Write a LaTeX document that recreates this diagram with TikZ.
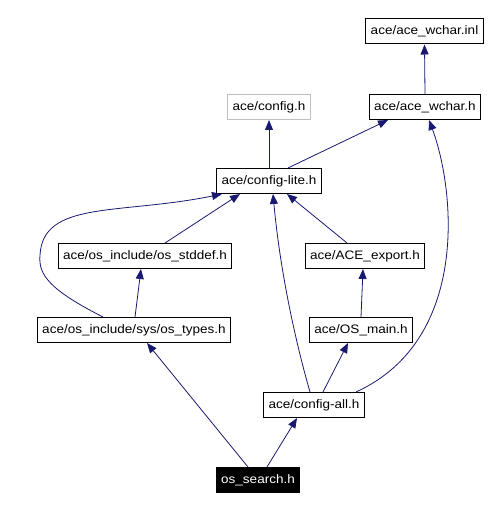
\documentclass[tikz,border=0pt]{standalone}
\usepackage{fontspec}
\setmainfont{Liberation Sans}[FakeStretch=1.1]
\usetikzlibrary{arrows.meta}
\definecolor{edgeblue}{HTML}{191970}
\definecolor{boxgray}{HTML}{BFBFBF}

\begin{document}
\begin{tikzpicture}[x=1pt,y=-1pt,
    >={Triangle[length=10pt,width=8pt]},
    file node/.style={draw,line width=1pt,inner xsep=5pt,inner ysep=0pt,minimum height=25pt,
      font=\fontsize{12.3pt}{14pt}\selectfont},
    gray node/.style={file node,draw=boxgray},
    main node/.style={file node,fill=black,text=white},
    dep/.style={->,edgeblue,line width=0.8pt}]

          \useasboundingbox (0,0) rectangle (490,510);

          \node[file node] (1) at (424.5,31.5) {ace/ace\_wchar.inl};
          \node[gray node] (2) at (269,107) {ace/config.h};
          \node[file node] (3) at (425,107) {ace/ace\_wchar.h};
          \node[file node] (4) at (269,181) {ace/config-lite.h};
          \node[file node] (5) at (145,256) {ace/os\_include/os\_stddef.h};
          \node[file node] (6) at (365,256) {ace/ACE\_export.h};
          \node[file node] (7) at (134,330) {ace/os\_include/sys/os\_types.h};
          \node[file node] (8) at (361,330) {ace/OS\_main.h};
          \node[file node] (9) at (314,405) {ace/config-all.h};
          \node[main node] (10) at (258,480) {os\_search.h};

          \draw[dep] (3.north) -- (1.south);
          \draw[dep] (4.north) -- (2.south);
          \draw[dep] ([xshift=19pt]4.north) -- ([xshift=-37pt]3.south);
          \draw[dep] ([xshift=42pt]9.north) .. controls (470,340) and (455,190) .. ([xshift=4pt]3.south);
          \draw[dep] ([xshift=20pt]5.north) -- ([xshift=-29pt]4.south);
          \draw[dep] ([xshift=-31pt]7.north) .. controls (50,290) and (38,275) .. (40,255)
            .. controls (43,200) and (120,215) .. ([xshift=-47pt]4.south);
          \draw[dep] ([xshift=-18pt]6.north) -- ([xshift=18pt]4.south);
          \draw[dep] ([xshift=-4pt]9.north) .. controls (295,340) and (280,270) .. ([xshift=4pt]4.south);
          \draw[dep] ([xshift=1pt]7.north) -- ([xshift=-4pt]5.south);
          \draw[dep] (8.north) -- ([xshift=-2pt]6.south);
          \draw[dep] ([xshift=9pt]9.north) -- ([xshift=-13pt]8.south);
          \draw[dep] ([xshift=-10pt]10.north) -- ([xshift=13pt]7.south);
          \draw[dep] ([xshift=9pt]10.north) -- ([xshift=-17pt]9.south);

        \end{tikzpicture}
\end{document}
